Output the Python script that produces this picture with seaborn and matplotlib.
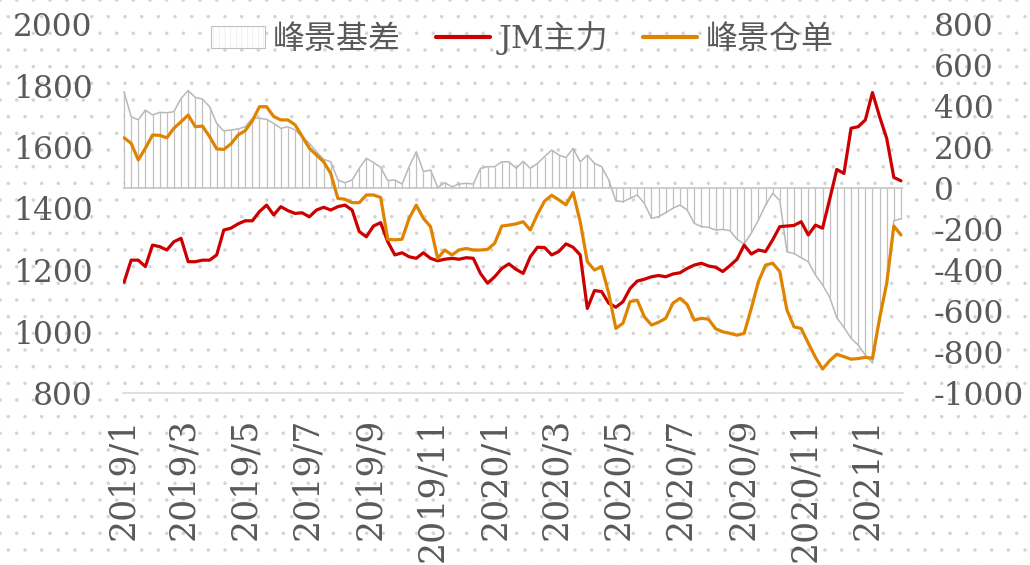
import numpy as np
import pandas as pd
import matplotlib
matplotlib.use("Agg")
import matplotlib.pyplot as plt
import seaborn as sns
from matplotlib.patches import Patch
from matplotlib.lines import Line2D

# ---------------- data (weekly readings) ----------------
dates = pd.date_range("2019-01-02", periods=110, freq="7D")

jm_main = [1160, 1232, 1232, 1211, 1281, 1276, 1265, 1292, 1303, 1227,
           1227, 1232, 1232, 1249, 1330, 1336, 1350, 1360, 1360, 1390,
           1411, 1379, 1406, 1393, 1384, 1386, 1373, 1395, 1404, 1395,
           1406, 1411, 1395, 1325, 1308, 1343, 1354, 1292, 1249, 1256,
           1243, 1238, 1256, 1238, 1230, 1235, 1238, 1235, 1240, 1238,
           1189, 1157, 1178, 1205, 1220, 1202, 1189, 1243, 1274, 1273,
           1249, 1260, 1285, 1274, 1249, 1075, 1133, 1130, 1092, 1079,
           1097, 1140, 1164, 1170, 1178, 1182, 1178, 1187, 1191, 1205,
           1216, 1222, 1213, 1209, 1195, 1214, 1235, 1281, 1252, 1265,
           1260, 1298, 1341, 1343, 1345, 1357, 1314, 1346, 1336, 1430,
           1527, 1514, 1661, 1666, 1688, 1777, 1699, 1628, 1501, 1490]

receipt = [1630, 1612, 1558, 1596, 1639, 1638, 1630, 1661, 1682, 1704,
           1666, 1668, 1634, 1594, 1592, 1610, 1639, 1653, 1685, 1731,
           1731, 1699, 1688, 1688, 1672, 1634, 1596, 1574, 1552, 1514,
           1433, 1430, 1419, 1419, 1444, 1444, 1436, 1300, 1298, 1300,
           1368, 1411, 1368, 1341, 1238, 1265, 1249, 1265, 1270, 1265,
           1265, 1267, 1287, 1343, 1346, 1350, 1357, 1330, 1381, 1424,
           1443, 1428, 1412, 1452, 1357, 1227, 1200, 1211, 1124, 1010,
           1027, 1097, 1102, 1048, 1021, 1030, 1043, 1092, 1108, 1088,
           1037, 1043, 1040, 1009, 999, 994, 988, 994, 1075, 1162,
           1216, 1222, 1195, 1070, 1015, 1010, 962, 916, 878, 905,
           926, 918, 910, 912, 916, 913, 1043, 1157, 1343, 1314]

basis = [470, 348, 332, 380, 356, 369, 367, 372, 437, 475,
         442, 434, 397, 315, 278, 283, 288, 299, 340, 340,
         335, 315, 291, 299, 283, 250, 218, 177, 140, 128,
         40, 25, 39, 96, 145, 124, 101, 36, 39, 19,
         104, 177, 80, 88, 3, 26, 6, 19, 23, 19,
         95, 104, 104, 128, 128, 96, 130, 96, 120, 153,
         185, 161, 148, 193, 128, 160, 120, 104, 39, -62,
         -67, -50, -34, -75, -148, -140, -120, -99, -83, -107,
         -172, -189, -192, -205, -202, -208, -250, -273, -221, -156,
         -83, -26, -60, -311, -320, -340, -360, -424, -473, -533,
         -633, -680, -733, -766, -815, -852, -650, -470, -160, -150]

tick_dates = ["2019-01-01", "2019-03-01", "2019-05-01", "2019-07-01",
              "2019-09-01", "2019-11-01", "2020-01-01", "2020-03-01",
              "2020-05-01", "2020-07-01", "2020-09-01", "2020-11-01",
              "2021-01-01"]
tick_labels = ["2019/1", "2019/3", "2019/5", "2019/7", "2019/9", "2019/11",
               "2020/1", "2020/3", "2020/5", "2020/7", "2020/9", "2020/11",
               "2021/1"]
left_ticks = [800, 1000, 1200, 1400, 1600, 1800, 2000]
right_ticks = [-1000, -800, -600, -400, -200, 0, 200, 400, 600, 800]
series_names = ["峰景基差", "JM主力", "峰景仓单"]

# ---------------- style ----------------
sns.set_style("white")
plt.rcParams["font.family"] = ["DejaVu Serif", "Noto Sans CJK SC"]
plt.rcParams["hatch.linewidth"] = 0.15

RED = "#CC0000"
ORANGE = "#E08300"
GREY = "#C0C0C0"
TXT = "#595959"

W, H = 1030, 565
fig = plt.figure(figsize=(W / 100, H / 100), dpi=100)
fig.patch.set_facecolor("white")
fig.patch.set_edgecolor("#D4D4D4")
fig.patch.set_linewidth(0)
fig.patch.set_hatch(".")

ax = fig.add_axes([123 / W, 1 - 393 / H, (903 - 123) / W, (393 - 24) / H])
ax2 = ax.twinx()
ax.set_zorder(ax2.get_zorder() + 1)
ax.patch.set_visible(False)
ax2.patch.set_visible(False)

# basis columns on the right axis
ax2.fill_between(dates, basis, 0, color="white", lw=0, zorder=1)
ax2.vlines(dates, 0, basis, colors=GREY, lw=0.9, zorder=2)
sns.lineplot(x=dates, y=basis, ax=ax2, color="#B8B8B8", lw=1.1, zorder=3)
ax2.axhline(0, color=GREY, lw=1.1, zorder=3)

# price lines on the left axis
sns.lineplot(x=dates, y=jm_main, ax=ax, color=RED, lw=2.3, zorder=4)
sns.lineplot(x=dates, y=receipt, ax=ax, color=ORANGE, lw=2.3, zorder=5)

ax.set_xlim(pd.Timestamp("2019-01-01"), pd.Timestamp("2021-02-05"))
ax.set_ylim(800, 2000)
ax2.set_ylim(-1000, 800)

for a in (ax, ax2):
    for s in a.spines.values():
        s.set_visible(False)
    a.set_xlabel("")
    a.set_ylabel("")
ax.spines["bottom"].set_visible(True)
ax.spines["bottom"].set_color("#D9D9D9")
ax.spines["bottom"].set_linewidth(1.2)

ax.set_xticks(pd.to_datetime(tick_dates))
ax.set_xticklabels(tick_labels, rotation=90)
ax.tick_params(axis="x", direction="out", length=7, width=0.8, color="#BFBFBF",
               pad=11, labelsize=25, labelcolor=TXT)

ax.set_yticks(left_ticks)
ax.set_yticklabels([str(v) for v in left_ticks])
ax.tick_params(axis="y", length=0, pad=22, labelsize=22.5, labelcolor=TXT)

ax2.set_yticks(right_ticks)
ax2.set_yticklabels([str(v) for v in right_ticks])
ax2.tick_params(axis="y", length=0, pad=22, labelsize=22.5, labelcolor=TXT)

handles = [Patch(facecolor="white", edgecolor=GREY, hatch="|||", lw=0.8),
           Line2D([], [], color=RED, lw=3),
           Line2D([], [], color=ORANGE, lw=3)]
fig.legend(handles, series_names, loc="center",
           bbox_to_anchor=(522 / W, 1 - 38 / H), ncol=3, frameon=False,
           fontsize=23, handlelength=1.7, handletextpad=0.25,
           columnspacing=1.1, labelcolor=TXT)

fig.savefig("out.png", dpi=100)
